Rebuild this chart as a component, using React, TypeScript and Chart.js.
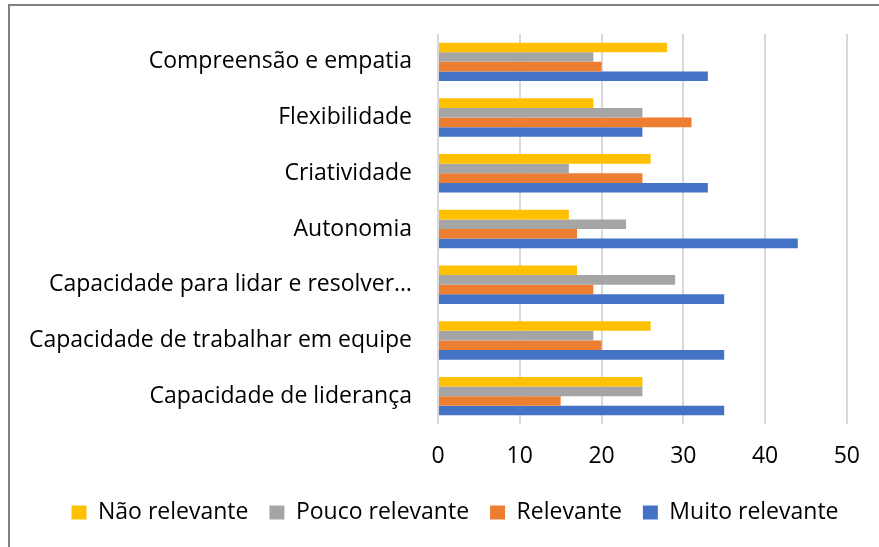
import React, { useEffect, useRef } from "react";
import { Chart, registerables } from "chart.js";

Chart.register(...registerables);

const categories = [
  "Compreensão e empatia",
  "Flexibilidade",
  "Criatividade",
  "Autonomia",
  "Capacidade para lidar e resolver…",
  "Capacidade de trabalhar em equipe",
  "Capacidade de liderança",
];

const seriesNames = ["Não relevante", "Pouco relevante", "Relevante", "Muito relevante"];
const naoRelevante = [28, 19, 26, 16, 17, 26, 25];
const poucoRelevante = [19, 25, 16, 23, 29, 19, 25];
const relevante = [20, 31, 25, 17, 19, 20, 15];
const muitoRelevante = [33, 25, 33, 44, 35, 35, 35];
const seriesColors = ["#FFC000", "#A5A5A5", "#ED7D31", "#4472C4"];
const xTicks = [0, 10, 20, 30, 40, 50];

const FONT = "'Open Sans', sans-serif";

export default function App() {
  const ref = useRef<HTMLCanvasElement | null>(null);
  useEffect(() => {
    if (!ref.current) return;
    const values = [naoRelevante, poucoRelevante, relevante, muitoRelevante];
    const chart = new Chart(ref.current, {
      type: "bar",
      data: {
        labels: categories,
        datasets: seriesNames.map((name, i) => ({
          label: name,
          data: values[i],
          backgroundColor: seriesColors[i],
          borderWidth: 0,
          categoryPercentage: 0.69,
          barPercentage: 1.0,
        })),
      },
      options: {
        indexAxis: "y",
        animation: false,
        responsive: false,
        maintainAspectRatio: false,
        layout: { padding: { top: 34, right: 15, left: 46, bottom: 13 } },
        plugins: {
          title: { display: false },
          tooltip: { enabled: false },
          legend: {
            position: "bottom",
            labels: {
              boxWidth: 15,
              boxHeight: 14,
              padding: 21,
              color: "#000",
              font: { family: FONT, size: 23 },
            },
          },
        },
        scales: {
          x: {
            min: 0,
            max: 50,
            afterBuildTicks: (axis: any) => {
              axis.ticks = xTicks.map((v) => ({ value: v }));
            },
            afterFit: (axis: any) => {
              axis.height = 56;
            },
            grid: { color: "#D9D9D9", lineWidth: 2, drawTicks: false },
            border: { display: false },
            ticks: {
              color: "#000",
              padding: 19,
              font: { family: FONT, size: 23 },
            },
          },
          y: {
            grid: { display: false, drawTicks: false },
            border: { display: false },
            afterFit: (axis: any) => {
              axis.width = 392;
              axis.paddingTop = 0;
              axis.paddingBottom = 0;
              axis._computeLabelArea = () => undefined;
            },
            ticks: {
              color: "#000",
              padding: 26,
              font: { family: FONT, size: 23 },
            },
          },
        },
      },
    });
    return () => chart.destroy();
  }, []);
  return (
    <div style={{ position: "fixed", left: 0, top: 0, width: 879, height: 547, background: "#fff", overflow: "hidden" }}>
      <div
        style={{
          position: "absolute",
          left: 8,
          top: 4,
          width: 900,
          height: 600,
          borderLeft: "2px solid #808080",
          borderTop: "2px solid #808080",
        }}
      />
      <canvas ref={ref} width={879} height={547} style={{ position: "absolute", left: 0, top: 0 }} />
    </div>
  );
}
